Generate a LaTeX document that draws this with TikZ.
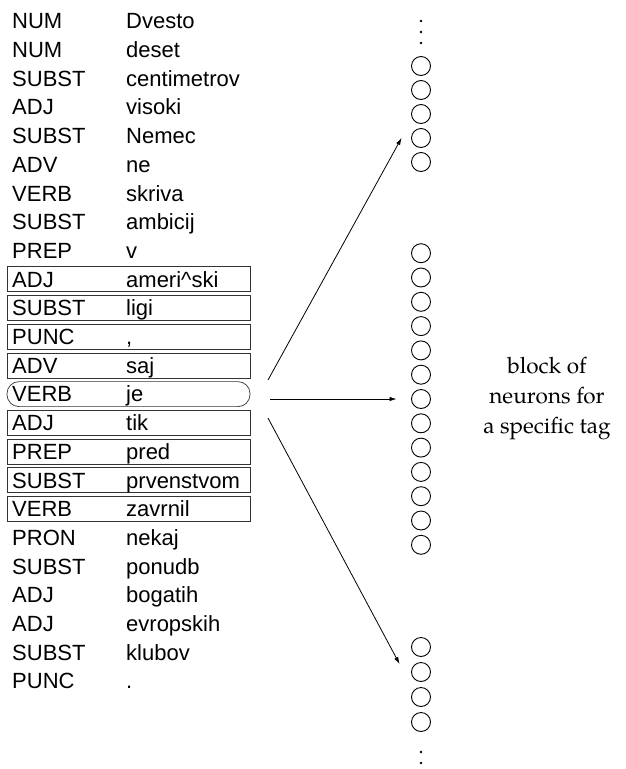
\documentclass[tikz,border=0pt]{standalone}
\usepackage{fontspec}
\setmainfont{Liberation Sans}
\newfontfamily\palfont{TeX Gyre Pagella}
\usetikzlibrary{arrows.meta}

\tikzset{
  tagtext/.style={anchor=base west, inner sep=0pt, font=\fontsize{22}{26}\selectfont},
  tagbox/.style={draw=black!80, line width=0.7pt, minimum width=243pt, minimum height=25pt, inner sep=0pt},
  ovalbox/.style={tagbox, rounded corners=12pt},
  neuron/.style={draw, circle, line width=0.9pt, minimum size=19pt, inner sep=0pt},
  vdot/.style={fill, circle, minimum size=2.8pt, inner sep=0pt},
  conn/.style={line width=0.8pt, -{Latex[length=7pt,width=4.5pt]}},
}

\begin{document}
\begin{tikzpicture}[x=1pt,y=-1pt]
\useasboundingbox (0,0) rectangle (625,769);

% boxes round the window of tagged words
\foreach \i in {9,10,11,12,14,15,16,17}{
  \node[tagbox] (box\i) at (128.5,{21+28.7*\i}) {};
}
\node[ovalbox] (box13) at (128.5,{21+28.7*13}) {};

% tag / word pairs
\foreach \i/\t/\w in {0/NUM/Dvesto,1/NUM/deset,2/SUBST/centimetrov,3/ADJ/visoki,
  4/SUBST/Nemec,5/ADV/ne,6/VERB/skriva,7/SUBST/ambicij,8/PREP/v,
  9/ADJ/ameri\^{}ski,10/SUBST/ligi,11/PUNC/{,},12/ADV/saj,13/VERB/je,
  14/ADJ/tik,15/PREP/pred,16/SUBST/prvenstvom,17/VERB/zavrnil,
  18/PRON/nekaj,19/SUBST/ponudb,20/ADJ/bogatih,21/ADJ/evropskih,
  22/SUBST/klubov,23/PUNC/.}{
  \node[tagtext] (tag\i) at (12,{21+28.7*\i+7.8}) {\t};
  \node[tagtext] (word\i) at (126,{21+28.7*\i+7.8}) {\w};
}

% neuron blocks
\foreach \k in {0,...,4}{ \node[neuron] (t\k) at (421,{66+24*\k}) {}; }
\foreach \k in {0,...,12}{ \node[neuron] (m\k) at (421,{399+24.3*(\k-6)}) {}; }
\foreach \k in {0,...,3}{ \node[neuron] (b\k) at (421,{647+25*\k}) {}; }

% continuation dots
\node[vdot] (dt0) at (421,21) {};
\node[vdot] (dt1) at (421,32) {};
\node[vdot] (dt2) at (421,43) {};
\node[vdot] (db0) at (421,752) {};
\node[vdot] (db1) at (421,763) {};

% label of the middle block
\node[align=center, inner sep=0pt, font=\palfont\fontsize{22.5}{30}\selectfont] (lbl) at (547,398)
  {block of\\neurons for\\a specific tag};

% connectors from the current word to the neuron blocks
\coordinate (srcU) at (268,380);
\coordinate (srcM) at (270,399);
\coordinate (srcL) at (268,418);
\coordinate (tipU) at ([xshift=-9.5pt]t3.west);
\coordinate (tipM) at ([xshift=-14.5pt]m6.west);
\coordinate (tipL) at ([xshift=-11.5pt,yshift=8pt]b1.west);
\draw[conn] (srcU) -- (tipU);
\draw[conn] (srcM) -- (tipM);
\draw[conn] (srcL) -- (tipL);
\end{tikzpicture}
\end{document}
